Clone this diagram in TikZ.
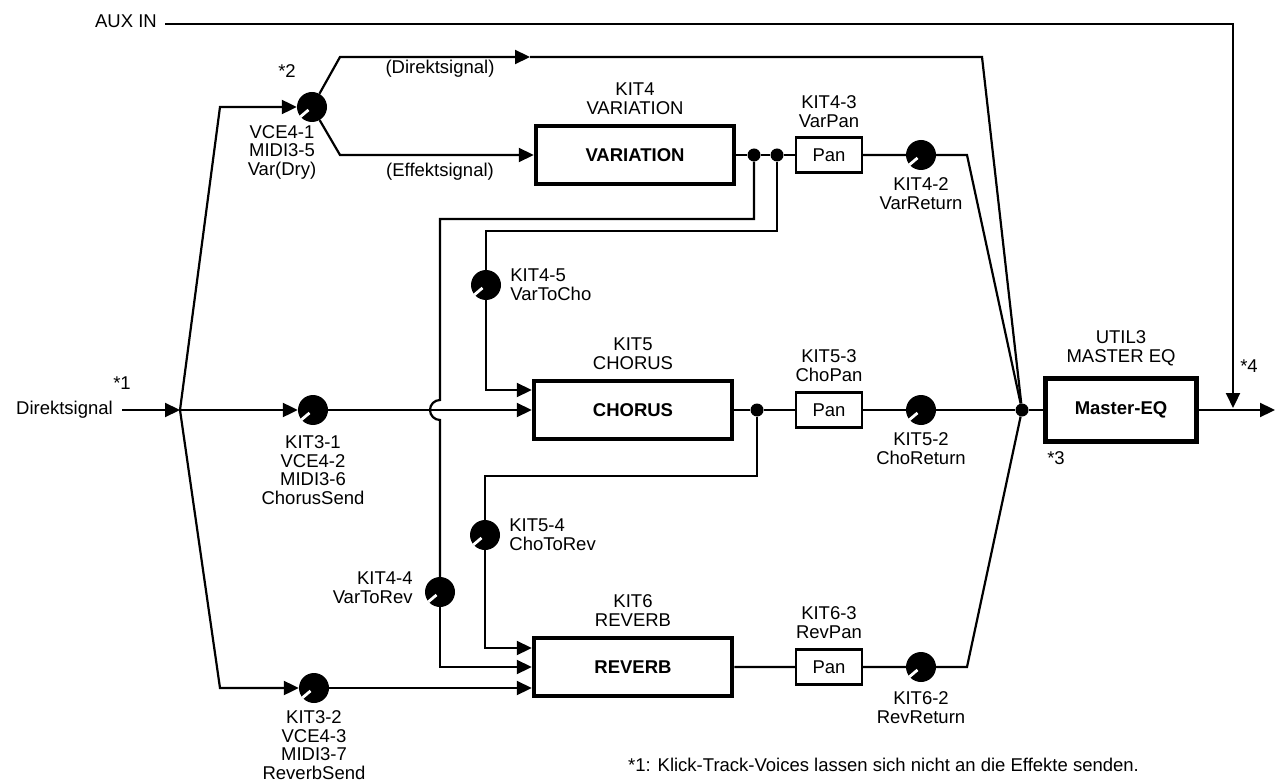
\documentclass[tikz,border=0pt]{standalone}
\usepackage{fontspec}
\setmainfont{Liberation Sans}
\usetikzlibrary{positioning,arrows.meta,calc}

\begin{document}
\begin{tikzpicture}[
    x=1pt, y=-1pt,
    font=\fontsize{18.5}{18.7}\selectfont,
    sig/.style={line width=2.2pt},
    arr/.style={sig, -{Triangle[length=15pt,width=14pt]}},
    fxbox/.style={draw, line width=4.5pt, minimum width=198pt, minimum height=58pt, font=\fontsize{18.5}{18.7}\selectfont\bfseries},
    panbox/.style={draw, line width=2.2pt, minimum width=66pt, minimum height=35pt},
    knob/.style={circle, fill=black, minimum size=30pt, inner sep=0pt},
    jdot/.style={circle, fill=black, minimum size=13pt, inner sep=0pt},
    lbl/.style={align=center, inner sep=0pt},
    knobmark/.style={white, line width=2.8pt},
]
\useasboundingbox (0,0) rectangle (1276,783);

\node[fxbox] (var) at (635,155) {VARIATION};
\node[fxbox] (cho) at (633,410) {CHORUS};
\node[fxbox] (rev) at (633,667) {REVERB};
\node[fxbox, minimum width=151pt, minimum height=63pt] (meq) at (1121,410) {Master-EQ};

\node[panbox] (vpan) at (829,155) {Pan};
\node[panbox] (cpan) at (829,410) {Pan};
\node[panbox] (rpan) at (829,667) {Pan};

\node[knob] (kdry) at (312,107) {};
\node[knob] (kchosend) at (313,410) {};
\node[knob] (krevsend) at (314,688) {};
\node[knob] (kvarret) at (921,155) {};
\node[knob] (kchoret) at (921,410) {};
\node[knob] (krevret) at (921,667) {};
\node[knob] (kvarcho) at (486,285) {};
\node[knob] (kchorev) at (485,535) {};
\node[knob] (kvarrev) at (440,592) {};

\node[jdot] (vsplitA) at (754,155) {};
\node[jdot] (vsplitB) at (777,155) {};
\node[jdot] (csplit) at (757,410) {};
\node[jdot] (mix) at (1022,410) {};

\node[anchor=east, inner xsep=8pt, inner ysep=0pt, text depth=6pt] (auxin) at (165,24) {AUX IN};
\node[anchor=east, inner xsep=9pt, inner ysep=0pt] (direkt) at (122,410) {Direktsignal};

\node[lbl] (n1) at (122,383) {*1};
\node[lbl] (n2) at (287,71) {*2};
\node[lbl] (n3) at (1056,458) {*3};
\node[lbl] (n4) at (1249,366) {*4};
\node[lbl] (ldir) at (440,69) {(Direktsignal)};
\node[lbl] (leff) at (440,172) {(Effektsignal)};

\node[lbl, anchor=north] (ldry) at (282,125) {VCE4-1\\MIDI3-5\\Var(Dry)};
\node[lbl, below=10pt of kchosend] (lchosend) {KIT3-1\\VCE4-2\\MIDI3-6\\ChorusSend};
\node[lbl, below=7pt of krevsend] (lrevsend) {KIT3-2\\VCE4-3\\MIDI3-7\\ReverbSend};
\node[lbl, above=9pt of var] (lvar) {KIT4\\VARIATION};
\node[lbl, above=9pt of vpan] (lvpan) {KIT4-3\\VarPan};
\node[lbl, below=7pt of kvarret] (lvarret) {KIT4-2\\VarReturn};
\node[lbl, align=left, right=9pt of kvarcho] (lvarcho) {KIT4-5\\VarToCho};
\node[lbl, above=9pt of cho] (lcho) {KIT5\\CHORUS};
\node[lbl, above=10pt of cpan] (lcpan) {KIT5-3\\ChoPan};
\node[lbl, below=7pt of kchoret] (lchoret) {KIT5-2\\ChoReturn};
\node[lbl, align=left, right=9pt of kchorev] (lchorev) {KIT5-4\\ChoToRev};
\node[lbl, align=right, left=12pt of kvarrev, yshift=4pt] (lvarrev) {KIT4-4\\VarToRev};
\node[lbl, above=9pt of rev] (lrev) {KIT6\\REVERB};
\node[lbl, above=10pt of rpan] (lrpan) {KIT6-3\\RevPan};
\node[lbl, below=9pt of krevret] (lrevret) {KIT6-2\\RevReturn};
\node[lbl, above=10pt of meq] (lmeq) {UTIL3\\MASTER EQ};

\node[anchor=base west, inner sep=0pt] (fn1) at (628,771) {*1: Klick-Track-Voices lassen sich nicht an die Effekte senden.};

\coordinate (split) at (180,410);
\coordinate (drybend) at (220,107);
\coordinate (revbend) at (220,688);
\coordinate (dirbend) at (340,57);
\coordinate (dirtip) at (530,57);
\coordinate (dirend) at (982,57);
\coordinate (effbend) at (340,155);
\coordinate (vrbend) at (967,155);
\coordinate (rrbend) at (967,667);
\coordinate (v2rtop) at (440,219);
\coordinate (v2rjump) at (440,400);
\coordinate (v2ctop) at (486,231);
\coordinate (c2rtop) at (485,476);
\coordinate (auxjoin) at (1233,408);
\coordinate (outend) at (1275,410);

\draw[arr] (direkt.east) -- (split);
\draw[arr] (split) -- (drybend) -- (kdry);
\draw[arr] (split) -- (kchosend);
\draw[arr] (split) -- (revbend) -- (krevsend);

\draw[arr] (kdry) -- (dirbend) -- (dirtip);
\draw[sig] (dirtip) -- (dirend) -- (mix);
\draw[arr] (kdry) -- (effbend) -- (var);
\draw[sig] (var) -- (vsplitA) -- (vsplitB) -- (vpan);
\draw[sig] (vpan) -- (kvarret) -- (vrbend) -- (mix);

\draw[sig] (vsplitA) |- (v2rtop) -- (v2rjump) arc[start angle=90, end angle=270, radius=10pt] -- (kvarrev);
\draw[arr] (kvarrev) |- (rev.west);
\draw[sig] (vsplitB) |- (v2ctop) -- (kvarcho);
\draw[arr] (kvarcho) |- ($(cho.west)+(0,-20)$);

\draw[arr] (kchosend) -- (cho);
\draw[sig] (cho) -- (csplit) -- (cpan) -- (kchoret) -- (mix) -- (meq);
\draw[sig] (csplit) |- (c2rtop) -- (kchorev);
\draw[arr] (kchorev) |- ($(rev.west)+(0,-19)$);

\draw[arr] (krevsend) -- ($(rev.west)+(0,21)$);
\draw[sig] (rev) -- (rpan) -- (krevret) -- (rrbend) -- (mix);

\draw[arr] (auxin.east) -| (auxjoin);
\draw[arr] (meq) -- (outend);

\foreach \k in {kdry,kchosend,krevsend,kvarret,kchoret,krevret,kvarcho,kchorev,kvarrev}
  \draw[knobmark] ($(\k.center)!0.3!(\k.220)$) -- (\k.220);
\end{tikzpicture}
\end{document}
